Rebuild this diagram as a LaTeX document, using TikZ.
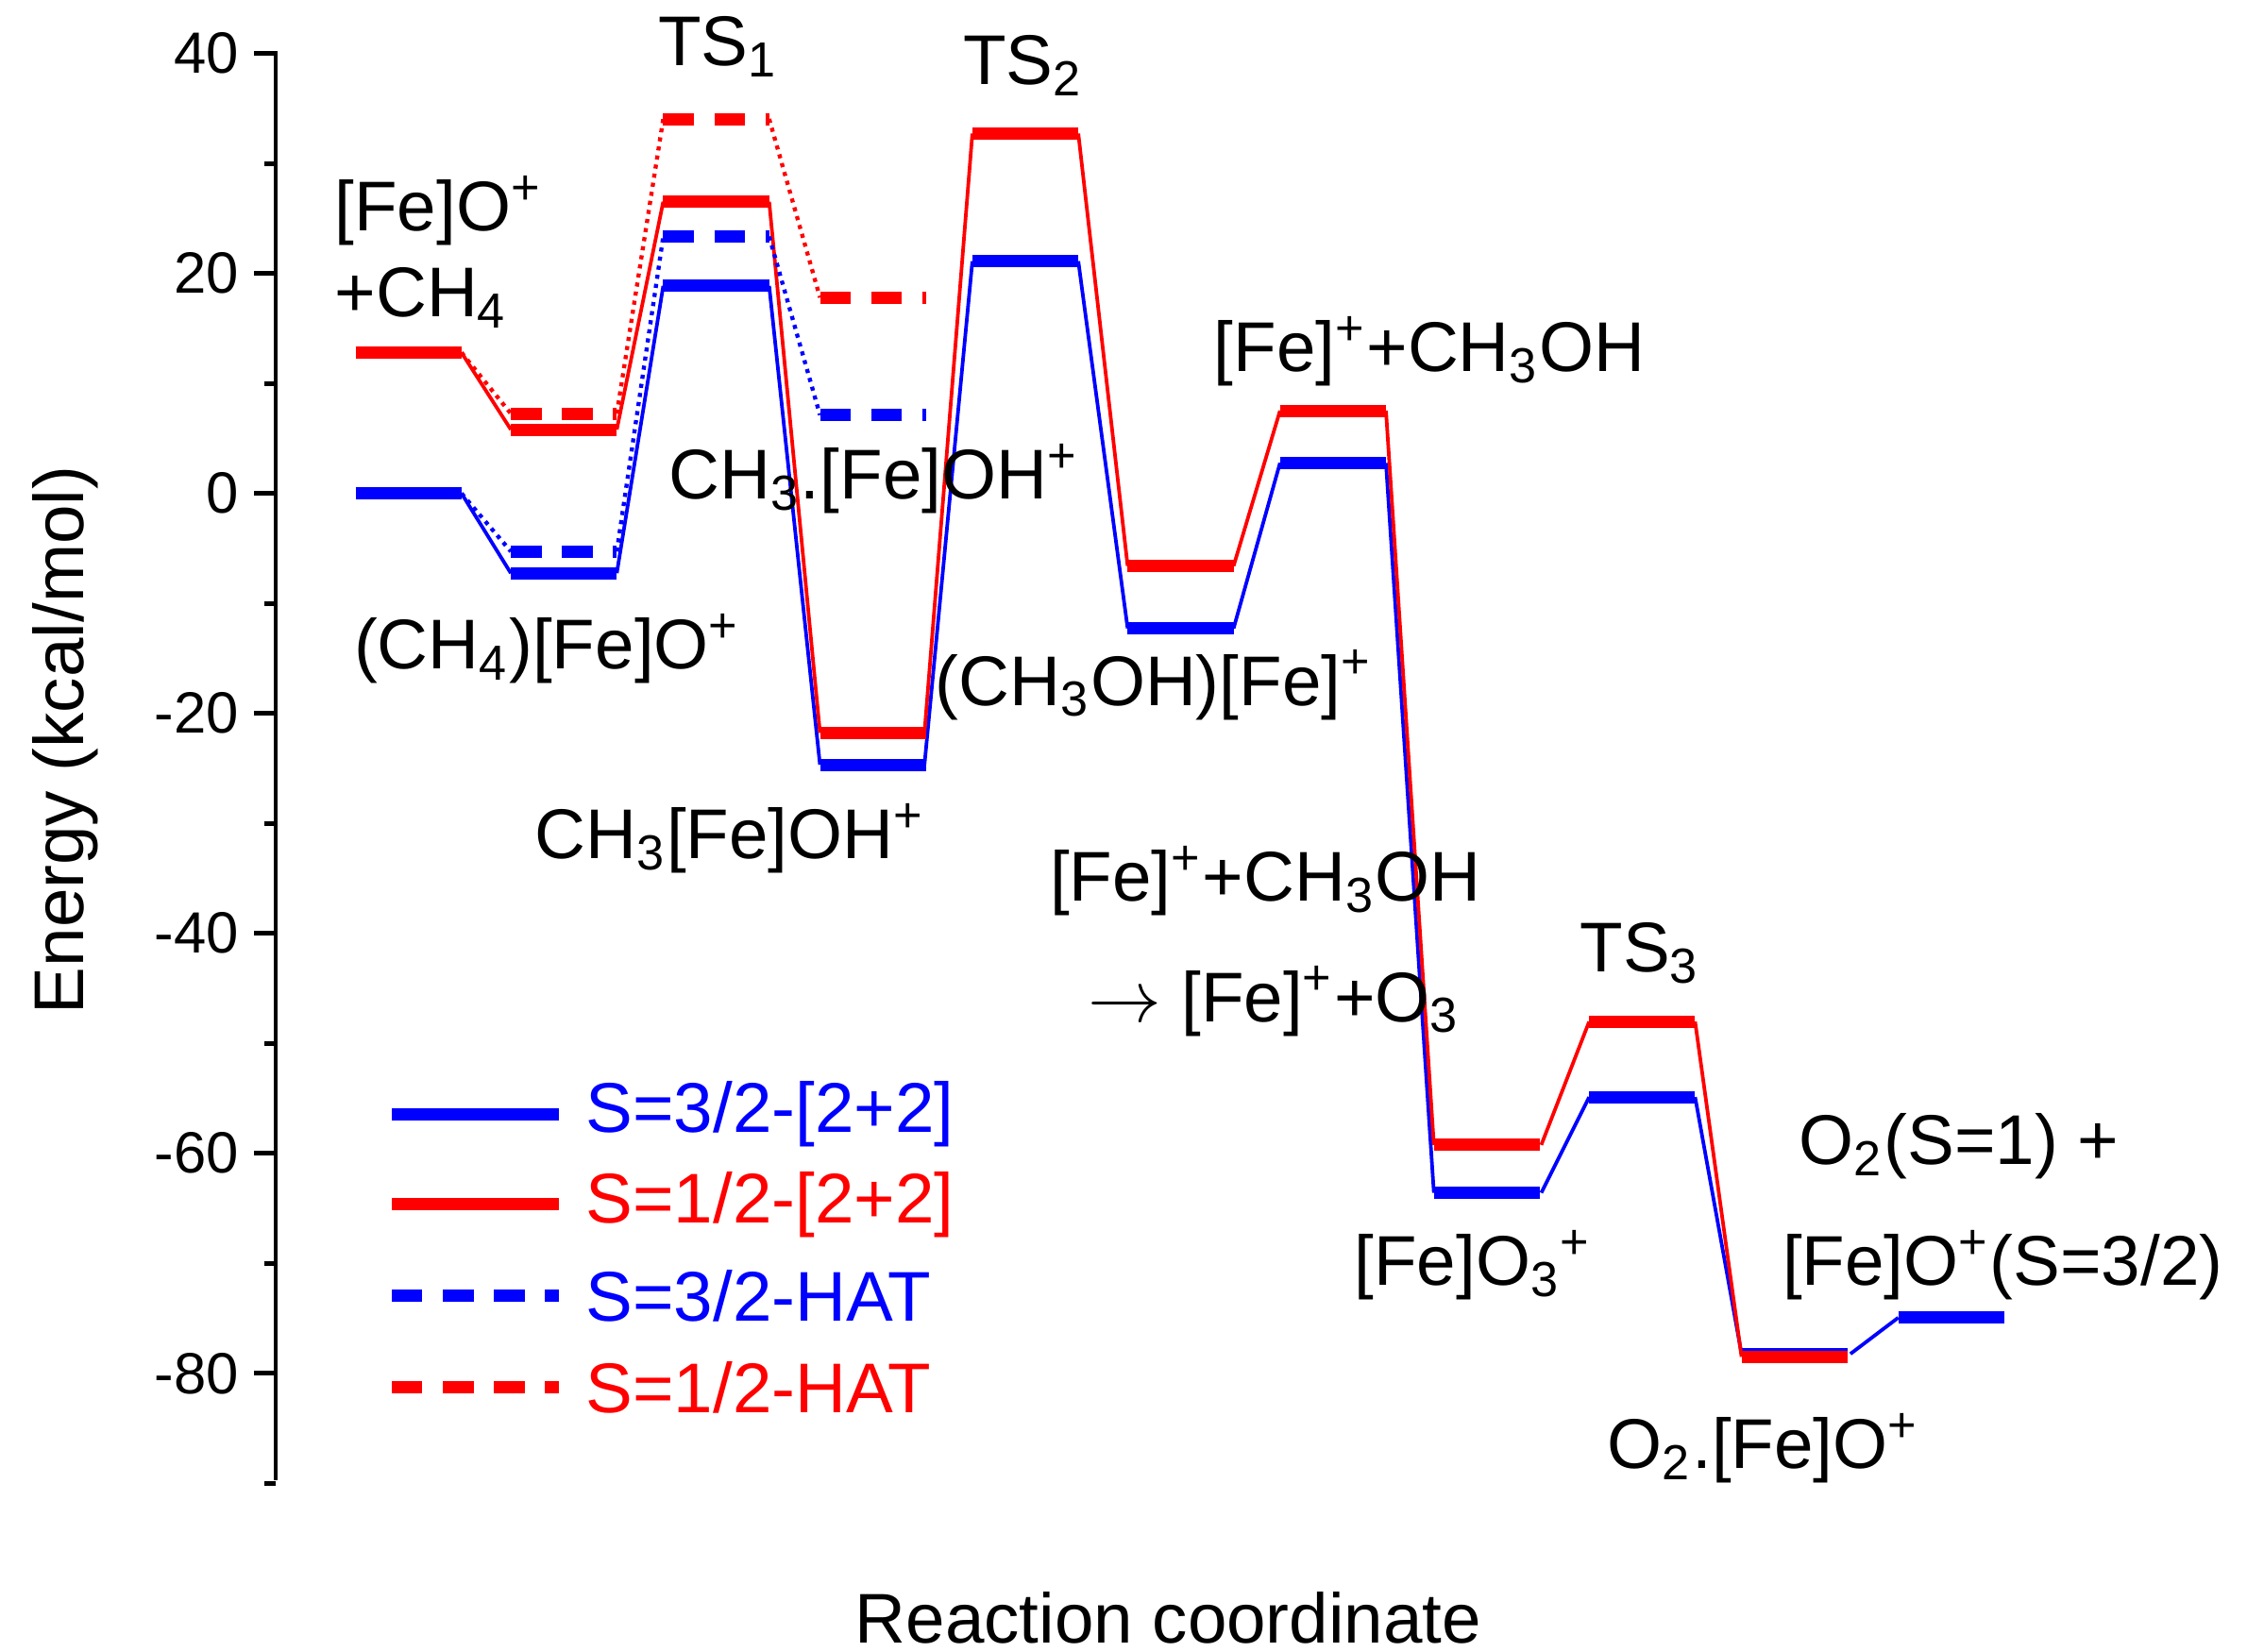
\documentclass[tikz,border=0pt]{standalone}
\usepackage{fontspec}
\setmainfont{Liberation Sans}
\newcommand{\sbb}[1]{\textsubscript{#1}}
\newcommand{\spp}[1]{\textsuperscript{#1}}
\begin{document}
\begin{tikzpicture}[x=0.01cm,y=-0.01cm,
  lvl/.style={line width=2.4pt},
  con/.style={line width=0.7pt},
  hat/.style={line width=0.8pt,densely dotted},
  dlvl/.style={line width=2.4pt,dash pattern=on 6pt off 4pt},
  lab/.style={font=\fontsize{13.8}{15}\selectfont,inner sep=0pt},
  tick/.style={font=\fontsize{11.4}{13}\selectfont,anchor=east,inner sep=0pt}]
\useasboundingbox (0,0) rectangle (1560,1138);
% axis
\draw[line width=0.9pt] (190,35) -- (190,1020);
\foreach \v/\t in {40/40,20/20,0/0,-20/-20,-40/-40,-60/-60,-80/-80}{
  \draw[line width=0.9pt] (175,340-7.58*\v) -- (190,340-7.58*\v);
  \node[tick] at (165,340-7.58*\v) {\t};}
\foreach \v in {30,10,-10,-30,-50,-70,-90}{
  \draw[line width=0.9pt] (182,340-7.58*\v) -- (190,340-7.58*\v);}
\node[lab,rotate=90] at (45,510) {Energy (kcal/mol)};
\node[lab] at (805,1115) {Reaction coordinate};
% blue solid
\draw[blue,con] (318,340)--(352,395) (425,395)--(457,197) (530,197)--(565,527) (637,527)--(670,180) (743,180)--(777,433) (850,433)--(882,319) (955,319)--(988,822) (1062,822)--(1095,756) (1168,756)--(1200,933) (1275,933)--(1308,908);
\foreach \xa/\yy in {245/340,352/395,457/197,565/527,670/180,777/433,882/319,988/822,1095/756,1200/933,1308/908}
  \draw[blue,lvl] (\xa,\yy) -- ++(73,0);
% red solid
\draw[red,con] (318,243)--(352,296) (425,296)--(457,139) (530,139)--(565,505) (637,505)--(670,92) (743,92)--(777,390) (850,390)--(882,283) (955,283)--(988,789) (1062,789)--(1095,704) (1168,704)--(1200,935);
\foreach \xa/\yy in {245/243,352/296,457/139,565/505,670/92,777/390,882/283,988/789,1095/704,1200/935}
  \draw[red,lvl] (\xa,\yy) -- ++(73,0);
% HAT
\draw[blue,hat] (318,340)--(352,380) (425,380)--(457,163) (530,163)--(565,286);
\draw[red,hat] (318,243)--(352,285) (425,285)--(457,82) (530,82)--(565,205);
\foreach \xa/\yy in {352/380,457/163,565/286} \draw[blue,dlvl] (\xa,\yy) -- ++(73,0);
\foreach \xa/\yy in {352/285,457/82,565/205} \draw[red,dlvl] (\xa,\yy) -- ++(73,0);
% legend
\draw[blue,lvl] (270,768)--(385,768); \node[lab,blue,anchor=west] at (403,768) {S=3/2-[2+2]};
\draw[red,lvl] (270,830)--(385,830); \node[lab,red,anchor=west] at (403,830) {S=1/2-[2+2]};
\draw[blue,dlvl] (270,893)--(385,893); \node[lab,blue,anchor=west] at (403,893) {S=3/2-HAT};
\draw[red,dlvl] (270,956)--(385,956); \node[lab,red,anchor=west] at (403,956) {S=1/2-HAT};
% labels
\node[lab,anchor=west] at (230,145) {[Fe]O\spp{+}};
\node[lab,anchor=west] at (230,205) {+CH\sbb{4}};
\node[lab] at (495,32) {TS\sbb{1}};
\node[lab] at (705,45) {TS\sbb{2}};
\node[lab] at (985,242) {[Fe]\spp{+}+CH\sbb{3}OH};
\node[lab] at (602,330) {CH\sbb{3}.[Fe]OH\spp{+}};
\node[lab] at (377,447) {(CH\sbb{4})[Fe]O\spp{+}};
\node[lab] at (795,472) {(CH\sbb{3}OH)[Fe]\spp{+}};
\node[lab] at (503,578) {CH\sbb{3}[Fe]OH\spp{+}};
\node[lab] at (872,607) {[Fe]\spp{+}+CH\sbb{3}OH};
\node[lab] at (878,690) {$\rightarrow$ [Fe]\spp{+}+O\sbb{3}};
\node[lab] at (1130,657) {TS\sbb{3}};
\node[lab] at (1350,790) {O\sbb{2}(S=1) +};
\node[lab] at (1380,872) {[Fe]O\spp{+}(S=3/2)};
\node[lab] at (1015,872) {[Fe]O\sbb{3}\spp{+}};
\node[lab] at (1215,998) {O\sbb{2}.[Fe]O\spp{+}};
\end{tikzpicture}
\end{document}
